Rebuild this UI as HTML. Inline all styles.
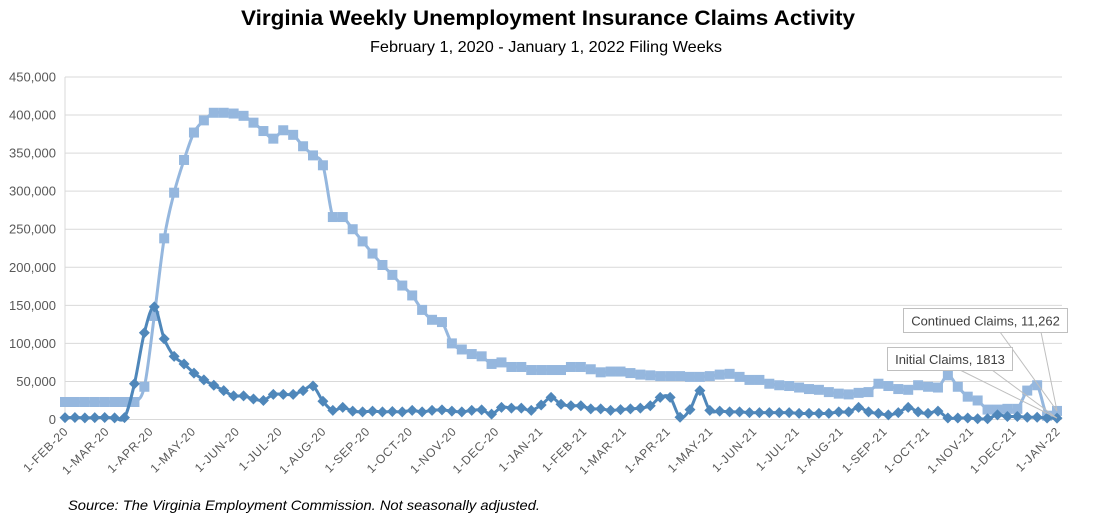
<!DOCTYPE html>
<html><head><meta charset="utf-8"><style>
body{margin:0;background:#fff;}
svg{display:block;font-family:"Liberation Sans",sans-serif;}
</style></head><body>
<svg id="chart" width="1111" height="514" viewBox="0 0 1111 514" xmlns="http://www.w3.org/2000/svg">
<text x="548" y="25" text-anchor="middle" font-size="21" font-weight="bold" fill="#000" textLength="614" lengthAdjust="spacingAndGlyphs">Virginia Weekly Unemployment Insurance Claims Activity</text>
<text x="546" y="52" text-anchor="middle" font-size="16" fill="#000" textLength="352" lengthAdjust="spacingAndGlyphs">February 1, 2020 - January 1, 2022 Filing Weeks</text>
<text x="68" y="510" font-size="14" font-style="italic" fill="#000" textLength="472" lengthAdjust="spacingAndGlyphs">Source: The Virginia Employment Commission. Not seasonally adjusted.</text>
<g id="grid"></g><g id="yaxis"></g><g id="xaxis"></g><g id="series"></g><g id="labels"></g>
</svg>
<script>
const yTicks=[0,50000,100000,150000,200000,250000,300000,350000,400000,450000];
const monthLabels=["1-FEB-20","1-MAR-20","1-APR-20","1-MAY-20","1-JUN-20","1-JUL-20","1-AUG-20","1-SEP-20","1-OCT-20","1-NOV-20","1-DEC-20","1-JAN-21","1-FEB-21","1-MAR-21","1-APR-21","1-MAY-21","1-JUN-21","1-JUL-21","1-AUG-21","1-SEP-21","1-OCT-21","1-NOV-21","1-DEC-21","1-JAN-22"];
const monthDays=[0,29,60,90,121,151,182,213,243,274,304,335,366,394,425,455,486,516,547,578,608,639,669,700];
const continuedClaims=[23000,23000,23000,23000,23000,23000,23000,23000,43000,136000,238000,298000,341000,377000,393000,403000,403000,402000,399000,390000,379000,369000,380000,374000,359000,347000,334000,266000,266000,250000,234000,218000,203000,190000,176000,163000,144000,131000,128000,100000,92000,86000,83000,73000,75000,69000,69000,65000,65000,65000,65000,69000,69000,66000,62000,63000,63000,61000,59000,58000,57000,57000,57000,56000,56000,57000,59000,60000,56000,52000,52000,47000,45000,44000,42000,40000,39000,36000,34000,33000,35000,36000,47000,44000,40000,39000,45000,43000,42000,58000,43000,30000,25000,13000,13000,14000,14000,38000,45000,5000,11262];
const initialClaims=[2500,2600,2200,2500,2600,2200,2500,47000,114000,148000,106000,83000,73000,61000,52000,45000,38000,31000,31000,27000,25000,33000,33000,33000,38000,44000,24000,12000,16000,11000,10000,11000,10000,10500,10000,12000,10000,12000,12600,11000,10000,12000,12600,7000,16000,15000,15000,12000,19000,29000,20000,18000,18000,14000,14000,12000,13000,14000,15000,18000,29000,29000,3000,13000,38000,12000,11000,10000,10000,9000,9000,9000,9000,9000,8000,8000,8000,8000,10000,10000,16000,10000,8000,6000,9000,16000,10000,8000,11000,2000,2000,2000,1000,1000,6000,4000,4000,3000,3000,2000,1813];
const NS="http://www.w3.org/2000/svg";
const X0=65,X1=1057,Y0=419.5,YMAX=450000,YPX=342.5;
const xDay=d=>X0+d*(X1-X0)/700;
const xWeek=i=>xDay(i*7);
const yVal=v=>Y0-v/YMAX*YPX;
function mk(tag,attrs,parent){const e=document.createElementNS(NS,tag);for(const k in attrs)e.setAttribute(k,attrs[k]);parent.appendChild(e);return e;}
const grid=document.getElementById('grid'),yaxis=document.getElementById('yaxis'),xaxis=document.getElementById('xaxis'),series=document.getElementById('series'),labels=document.getElementById('labels');
yTicks.forEach(v=>{
  const l=mk('line',{x1:X0,x2:X1+5,y1:yVal(v),y2:yVal(v),stroke:'#d9d9d9','stroke-width':1},grid);
  
  
  const t=mk('text',{x:56,y:yVal(v)+4.5,'text-anchor':'end','font-size':13,fill:'#595959'},yaxis);
  t.textContent=v.toLocaleString('en-US');
  
  
});
const ax=mk('line',{x1:X0,x2:X0,y1:yVal(YMAX),y2:Y0,stroke:'#d9d9d9'},grid);


monthLabels.forEach((s,i)=>{
  const x=xDay(monthDays[i]);
  const t=mk('text',{x:x+4,y:432,'text-anchor':'end','font-size':12,fill:'#595959','letter-spacing':'0.8',transform:`rotate(-45 ${x+4} 432)`},xaxis);
  t.textContent=s;
  
  
});
function smoothPath(vals){
  const p=vals.map((v,i)=>[xWeek(i),yVal(v)]);
  let d=`M${p[0][0]},${p[0][1]}`;
  for(let i=0;i<p.length-1;i++){
    const a=p[i-1]||p[i],b=p[i],c=p[i+1],e=p[i+2]||c;
    const c1=[b[0]+(c[0]-a[0])/6,b[1]+(c[1]-a[1])/6],c2=[c[0]-(e[0]-b[0])/6,c[1]-(e[1]-b[1])/6];
    d+=` C${c1[0]},${c1[1]} ${c2[0]},${c2[1]} ${c[0]},${c[1]}`;
  }
  return d;
}
const cl=mk('path',{d:smoothPath(continuedClaims),fill:'none',stroke:'#95b7de','stroke-width':3},series);


continuedClaims.forEach((v,i)=>{
  const r=mk('rect',{x:xWeek(i)-5,y:yVal(v)-5,width:10,height:10,fill:'#95b7de'},series);
  
  
});
const il=mk('path',{d:smoothPath(initialClaims),fill:'none',stroke:'#4f87ba','stroke-width':3},series);


initialClaims.forEach((v,i)=>{
  const x=xWeek(i),y=yVal(v);
  const r=mk('polygon',{points:`${x},${y-5.5} ${x+5.5},${y} ${x},${y+5.5} ${x-5.5},${y}`,fill:'#4f87ba'},series);
  
  
});
const lx=xWeek(100),lyc=yVal(continuedClaims[100]),lyi=yVal(initialClaims[100]);
const c1=mk('polyline',{points:`1000,332 ${lx},${lyc} 1041,332`,fill:'none',stroke:'#bfbfbf'},labels);


const c2=mk('polyline',{points:`960,370 ${lx},${lyi} 992,370`,fill:'none',stroke:'#bfbfbf'},labels);


const b1=mk('rect',{x:903.5,y:308.5,width:164,height:24,fill:'#fff',stroke:'#bfbfbf'},labels);


const t1=mk('text',{x:985.5,y:325.5,'text-anchor':'middle','font-size':13,fill:'#404040'},labels);
t1.textContent='Continued Claims, '+continuedClaims[100].toLocaleString('en-US');


const b2=mk('rect',{x:887.5,y:347.5,width:125,height:23,fill:'#fff',stroke:'#bfbfbf'},labels);


const t2=mk('text',{x:950,y:364,'text-anchor':'middle','font-size':13,fill:'#404040'},labels);
t2.textContent='Initial Claims, '+initialClaims[100];


</script>
</body></html>
